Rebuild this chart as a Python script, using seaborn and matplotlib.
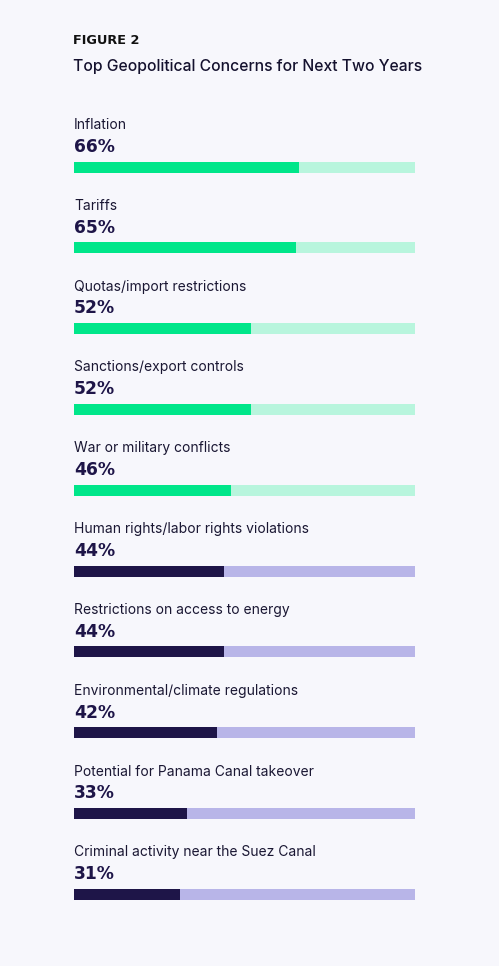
import matplotlib
matplotlib.use("Agg")
import matplotlib.pyplot as plt
import seaborn as sns
import pandas as pd

categories = [
    "Inflation",
    "Tariffs",
    "Quotas/import restrictions",
    "Sanctions/export controls",
    "War or military conflicts",
    "Human rights/labor rights violations",
    "Restrictions on access to energy",
    "Environmental/climate regulations",
    "Potential for Panama Canal takeover",
    "Criminal activity near the Suez Canal",
]
values = [66, 65, 52, 52, 46, 44, 44, 42, 33, 31]
groups = ["top"] * 5 + ["rest"] * 5

BG = "#F7F7FC"
GREEN, GREEN_L = "#00E68A", "#B8F5DD"
NAVY, LAV = "#1E1548", "#B8B5E8"
TEXT = "#1A1733"

sns.set_theme(style="white")
plt.rcParams["font.family"] = ["Inter", "DejaVu Sans"]

df = pd.DataFrame({"cat": categories, "val": values, "grp": groups, "full": [100] * len(values)})

fig = plt.figure(figsize=(4.99, 9.66), dpi=100, facecolor=BG)
H = 966.0
top_px, bot_px = 167 - 40.4, 894.5 + 40.4
ax = fig.add_axes([74 / 499, 1 - bot_px / H, (415 - 74) / 499, (bot_px - top_px) / H])
ax.set_facecolor(BG)

bh = 11 / 80.8
track_cols = [GREEN_L if g == "top" else LAV for g in groups]
fill_cols = [GREEN if g == "top" else NAVY for g in groups]

sns.barplot(data=df, y="cat", x="full", hue="cat", palette=track_cols, orient="h",
            width=bh, ax=ax, legend=False, saturation=1, linewidth=0)
sns.barplot(data=df, y="cat", x="val", hue="cat", palette=fill_cols, orient="h",
            width=bh, ax=ax, legend=False, saturation=1, linewidth=0)

ax.set_xlim(0, 100)
ax.set_ylim(len(categories) - 0.5, -0.5)
ax.axis("off")

for i, (c, v) in enumerate(zip(categories, values)):
    ax.text(0, i - 0.52, c, fontsize=10.0, color=TEXT, va="center", ha="left",
            clip_on=False)
    ax.text(0, i - 0.25, f"{v}%", fontsize=12.3, fontweight="bold", color="#1E1548",
            va="center", ha="left", clip_on=False, family="DejaVu Sans")

fig.text(73 / 499, 1 - 41 / H, "FIGURE 2", fontsize=9.3, fontweight="heavy",
         color="#111111", va="center", ha="left", family="DejaVu Sans")
fig.text(73 / 499, 1 - 67 / H, "Top Geopolitical Concerns for Next Two Years",
         fontsize=11.3, fontweight="medium", color="#14112E", va="center", ha="left")

fig.savefig("out.png", dpi=100, facecolor=BG)
